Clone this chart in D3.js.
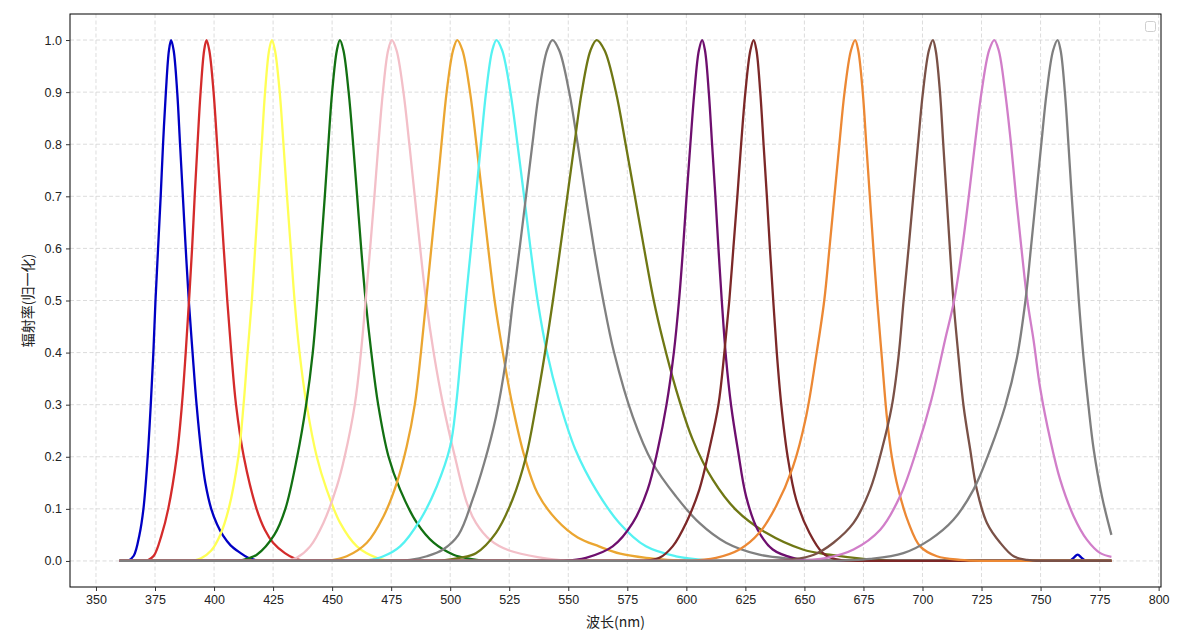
<!DOCTYPE html>
<html>
<head>
<meta charset="utf-8">
<script src="https://cdn.jsdelivr.net/npm/d3@7"></script>
<style>
  body { margin: 0; background: #fff; }
  svg { display: block; }
</style>
</head>
<body>
<script>
// spectra: [wavelength nm, normalised radiance]
const blueLed = [[360,0],[363.6,0],[366,0.01],[368.4,0.05],[370.1,0.1],[371.9,0.2],[373.2,0.3],[374.3,0.4],[375.2,0.5],[376.3,0.6],[377.4,0.7],[378.4,0.8],[379.6,0.9],[380.9,0.98],[381.8,1],[382.9,0.98],[384.4,0.9],[385.6,0.8],[386.8,0.7],[388,0.6],[389.3,0.5],[390.9,0.4],[392.6,0.3],[394.8,0.2],[396.3,0.15],[398.8,0.1],[401.3,0.07],[403.9,0.048],[407,0.03],[411,0.016],[414.5,0.006],[419,0],[762.5,0],[764,0.006],[765.7,0.012],[767.4,0.006],[769,0],[780,0]]
const redLed = [[360,0],[371.5,0],[374.5,0.01],[377.8,0.05],[380.6,0.1],[384.2,0.2],[386.4,0.3],[388,0.4],[389.4,0.5],[390.7,0.6],[391.8,0.7],[393,0.8],[394.3,0.9],[395.8,0.98],[396.8,1],[398,0.98],[399.8,0.9],[401.3,0.8],[402.7,0.7],[404.1,0.6],[405.6,0.5],[407.3,0.4],[409.3,0.3],[412.6,0.2],[418,0.1],[421.5,0.06],[425,0.035],[430,0.015],[434,0.005],[438,0],[780,0]]
const yellowLed = [[360,0],[391,0],[394.5,0.005],[398.8,0.02],[402.6,0.05],[406.2,0.1],[410.3,0.2],[412.5,0.3],[414.2,0.4],[416,0.5],[417.4,0.6],[418.8,0.7],[420.2,0.8],[421.6,0.9],[423.3,0.98],[424.5,1],[425.8,0.98],[427.8,0.9],[429.4,0.8],[430.9,0.7],[432.5,0.6],[434.1,0.5],[436.2,0.4],[439.2,0.3],[443.5,0.2],[447.7,0.137],[453.4,0.073],[460.5,0.028],[468.9,0.006],[475,0],[780,0]]
const greenLed = [[360,0],[410,0],[412.4,0.002],[418.1,0.012],[425.5,0.05],[430.2,0.1],[435.2,0.2],[439,0.3],[441.8,0.4],[443.7,0.5],[445.3,0.6],[446.9,0.7],[448.4,0.8],[450,0.9],[452,0.98],[453.3,1],[454.8,0.98],[457,0.9],[458.9,0.8],[460.6,0.7],[462.3,0.6],[464.2,0.5],[466.6,0.4],[469.5,0.3],[473.9,0.2],[478.8,0.137],[485.9,0.073],[493,0.035],[501.4,0.012],[508.5,0.004],[515,0],[780,0]]
const pinkLed = [[360,0],[431,0],[435,0.006],[440.7,0.028],[446.3,0.073],[452,0.143],[455.3,0.2],[459.6,0.3],[462.2,0.4],[464.2,0.5],[466.1,0.6],[467.9,0.7],[469.6,0.8],[471.5,0.9],[473.7,0.98],[475.3,1],[477.3,0.98],[480.2,0.9],[482.7,0.8],[485,0.7],[487.3,0.6],[489.8,0.5],[493,0.4],[497,0.3],[502,0.2],[507.1,0.111],[510.9,0.073],[517,0.04],[525,0.02],[539,0.006],[550,0],[780,0]]
const orangeLed = [[360,0],[448,0],[456.2,0.009],[464.7,0.035],[471.8,0.086],[477.4,0.15],[481.6,0.22],[485,0.3],[487.6,0.4],[489.8,0.5],[492,0.6],[494.2,0.7],[496.3,0.8],[498.5,0.9],[501.2,0.98],[503,1],[505.2,0.98],[508.4,0.9],[511.1,0.8],[513.6,0.7],[516.1,0.6],[518.8,0.5],[522.3,0.4],[526.3,0.3],[531.5,0.2],[537,0.13],[545,0.079],[554,0.045],[563,0.028],[572,0.014],[583,0.006],[600,0],[780,0]]
const cyanLed = [[360,0],[462,0],[464.7,0.001],[471.7,0.009],[478.8,0.028],[487.3,0.079],[494.3,0.143],[500,0.22],[502.5,0.3],[504.6,0.4],[506.6,0.5],[508.8,0.6],[510.9,0.7],[513,0.8],[515.2,0.9],[517.8,0.98],[519.6,1],[522,0.98],[525.5,0.9],[528.5,0.8],[531.3,0.7],[534,0.6],[537,0.5],[541,0.4],[546,0.31],[553,0.214],[561.7,0.137],[571.6,0.073],[582.9,0.028],[595.6,0.009],[609.7,0.001],[615,0],[780,0]]
const grayLed = [[360,0],[478,0],[483,0.002],[490.1,0.009],[497,0.022],[503.5,0.05],[509.5,0.118],[514.4,0.188],[519.4,0.277],[523.6,0.386],[526.6,0.5],[529.4,0.6],[532.1,0.7],[534.8,0.8],[537.6,0.9],[541,0.98],[543.3,1],[546.2,0.98],[550.4,0.9],[554,0.8],[557.4,0.7],[560.9,0.6],[564.8,0.5],[569.4,0.4],[577.3,0.277],[585.7,0.188],[595.6,0.124],[605.5,0.073],[616.8,0.035],[630.9,0.012],[645.1,0.004],[660,0],[780,0]]
const oliveLed = [[360,0],[495,0],[503.8,0.006],[510.9,0.015],[519.4,0.054],[526.4,0.118],[532.1,0.2],[536.3,0.297],[539.8,0.39],[543.5,0.5],[546.6,0.6],[549.6,0.7],[552.6,0.8],[555.7,0.9],[559.4,0.98],[562,1],[565.4,0.98],[570.2,0.9],[574.3,0.8],[578.2,0.7],[582.1,0.6],[586.2,0.5],[590,0.425],[595.6,0.33],[602.7,0.233],[611.2,0.156],[621,0.098],[633.8,0.054],[649.3,0.022],[660.6,0.012],[677,0.003],[690,0],[780,0]]
const purpleLed = [[360,0],[548,0],[557.5,0.006],[568.8,0.028],[577.3,0.073],[583.6,0.137],[587.9,0.214],[591.6,0.3],[594.7,0.4],[596.9,0.5],[598.6,0.6],[600.1,0.7],[601.7,0.8],[603.4,0.9],[605.3,0.98],[606.7,1],[607.9,0.98],[609.5,0.9],[610.9,0.8],[612.3,0.7],[613.6,0.6],[615,0.5],[616.8,0.39],[619,0.297],[621.8,0.214],[625.3,0.124],[630.2,0.06],[636.6,0.022],[645.1,0.006],[655,0],[780,0]]
const darkredLed = [[360,0],[582,0],[588.6,0.006],[594.2,0.028],[599.9,0.073],[605.5,0.137],[609.7,0.214],[613.6,0.3],[616.1,0.4],[618.2,0.5],[619.9,0.6],[621.6,0.7],[623.2,0.8],[625,0.9],[627.1,0.98],[628.5,1],[629.7,0.98],[631.3,0.9],[632.7,0.8],[634.1,0.7],[635.4,0.6],[636.8,0.5],[638.3,0.4],[640.2,0.3],[642.9,0.2],[646.5,0.118],[652.1,0.054],[657.8,0.015],[662,0.005],[668,0],[780,0]]
const orange2Led = [[360,0],[600,0],[612.6,0.006],[622.5,0.022],[630.9,0.054],[638,0.105],[645.1,0.18],[650.7,0.277],[655.2,0.4],[658.4,0.5],[660.6,0.6],[662.7,0.7],[664.8,0.8],[667,0.9],[669.7,0.98],[671.5,1],[672.8,0.98],[674.7,0.9],[676.2,0.8],[677.7,0.7],[679.2,0.6],[680.8,0.5],[682.8,0.39],[684.9,0.277],[687,0.2],[689.8,0.137],[694.1,0.073],[699,0.028],[706.1,0.009],[716,0.002],[725,0],[780,0]]
const brownLed = [[360,0],[635,0],[645,0.003],[654,0.012],[662.3,0.035],[670.8,0.073],[677.8,0.137],[682.8,0.214],[687,0.297],[689.8,0.39],[692,0.5],[694.1,0.6],[696.1,0.7],[698.1,0.8],[700.2,0.9],[702.7,0.98],[704.4,1],[705.6,0.98],[707.4,0.9],[708.8,0.8],[710.2,0.7],[711.6,0.6],[713.1,0.5],[715.3,0.39],[717.4,0.297],[720.2,0.214],[723,0.137],[727.3,0.073],[732.9,0.035],[738.6,0.009],[744.2,0.002],[750,0],[780,0]]
const orchidLed = [[360,0],[645,0],[659.5,0.006],[670.8,0.022],[682.1,0.06],[690.5,0.124],[697.6,0.214],[703.8,0.31],[709.6,0.425],[713.4,0.5],[716.8,0.6],[719.6,0.7],[722.2,0.8],[725,0.9],[728.2,0.98],[730.4,1],[732.3,0.98],[735,0.9],[737.5,0.8],[739.6,0.7],[741.9,0.6],[744.4,0.5],[747,0.425],[749.9,0.33],[754.1,0.233],[758.3,0.156],[764,0.086],[769.6,0.041],[775.3,0.015],[780,0.008]]
const gray2Led = [[360,0],[660,0],[677.8,0.004],[691.9,0.015],[703.2,0.041],[713.1,0.079],[721.6,0.137],[728.7,0.214],[735,0.297],[740,0.39],[743.6,0.5],[745.9,0.6],[748.1,0.7],[750.3,0.8],[752.6,0.9],[755.3,0.98],[757.2,1],[758.5,0.98],[760.3,0.9],[761.8,0.8],[763.2,0.7],[764.7,0.6],[766.2,0.5],[768.2,0.39],[770.3,0.297],[772.5,0.214],[776,0.124],[780,0.05]]

const spectra = [blueLed, redLed, yellowLed, greenLed, pinkLed, orangeLed, cyanLed, grayLed,
                 oliveLed, purpleLed, darkredLed, orange2Led, brownLed, orchidLed, gray2Led]
const colors = ["#0000c4", "#d42b2b", "#ffff55", "#127012", "#f3bfc8", "#eba631", "#55f2f2", "#808080",
                "#6f7714", "#6e0f6e", "#7c2828", "#ec8834", "#7a5147", "#d17ec9", "#7f7f7f"]

const xTicks = [350, 375, 400, 425, 450, 475, 500, 525, 550, 575, 600, 625, 650, 675, 700, 725, 750, 775, 800]
const yTicks = [0, 0.1, 0.2, 0.3, 0.4, 0.5, 0.6, 0.7, 0.8, 0.9, 1.0]

const xLabel = "波长(nm)"
const yLabel = "辐射率(归一化)"

const width = 1200
const height = 635
const margin = ({top: 14, right: 39, bottom: 48, left: 70})

let svg = d3.select("body").append("svg")
    .attr("width", width)
    .attr("height", height)

let x = d3.scaleLinear()
    .domain([339, 801])
    .range([margin.left, width - margin.right])

let y = d3.scaleLinear()
    .domain([-0.05, 1.05])
    .range([height - margin.bottom, margin.top])

const font = "'Liberation Sans', Arial, 'Noto Sans CJK SC', sans-serif"

// grid
svg.append("g")
    .attr("stroke", "#d3d3d3")
    .attr("stroke-width", 0.8)
    .attr("stroke-dasharray", "4,2.5")
  .selectAll("line")
  .data(xTicks)
  .join("line")
    .attr("x1", d => x(d)).attr("x2", d => x(d))
    .attr("y1", margin.top).attr("y2", height - margin.bottom)

svg.append("g")
    .attr("stroke", "#d3d3d3")
    .attr("stroke-width", 0.8)
    .attr("stroke-dasharray", "4,2.5")
  .selectAll("line")
  .data(yTicks)
  .join("line")
    .attr("x1", margin.left).attr("x2", width - margin.right)
    .attr("y1", d => y(d)).attr("y2", d => y(d))

// curves: smooth through the peaks, straight along the zero stretches
let smoothLine = d3.line()
    .x(d => x(d[0]))
    .y(d => y(d[1]))
    .curve(d3.curveCatmullRom.alpha(0.5))

let flatLine = d3.line()
    .x(d => x(d[0]))
    .y(d => y(d[1]))

function pieces(pts) {
    let out = []
    let cur = [pts[0]]
    for (let i = 1; i < pts.length; i++) {
        let a = pts[i - 1], b = pts[i]
        if (a[1] === 0 && b[1] === 0) {
            if (cur.length > 1) out.push(smoothLine(cur))
            out.push(flatLine([a, b]))
            cur = [b]
        } else {
            cur.push(b)
        }
    }
    if (cur.length > 1) out.push(smoothLine(cur))
    return out.join("")
}

svg.append("g")
    .attr("fill", "none")
    .attr("stroke-width", 2.3)
    .attr("stroke-linejoin", "round")
  .selectAll("path")
  .data(spectra)
  .join("path")
    .attr("stroke", (d, i) => colors[i])
    .attr("d", pieces)

// frame
svg.append("rect")
    .attr("x", margin.left)
    .attr("y", margin.top)
    .attr("width", width - margin.left - margin.right)
    .attr("height", height - margin.top - margin.bottom)
    .attr("fill", "none")
    .attr("stroke", "#000")
    .attr("stroke-width", 1)

// axes
let xAxis = g => g
    .attr("transform", `translate(0,${height - margin.bottom})`)
    .call(d3.axisBottom(x).tickValues(xTicks).tickFormat(d3.format("d")).tickSize(4).tickSizeOuter(0).tickPadding(4))
    .call(g => g.select(".domain").remove())

let yAxis = g => g
    .attr("transform", `translate(${margin.left},0)`)
    .call(d3.axisLeft(y).tickValues(yTicks).tickFormat(d3.format(".1f")).tickSize(4).tickSizeOuter(0).tickPadding(4))
    .call(g => g.select(".domain").remove())

svg.append("g").call(xAxis)
    .attr("font-family", font).attr("font-size", 12.5)
    .selectAll("text").attr("fill", "#222")
svg.append("g").call(yAxis)
    .attr("font-family", font).attr("font-size", 12.5)
    .selectAll("text").attr("fill", "#222")
svg.selectAll(".tick line").attr("stroke", "#333")

// labels
svg.append("text")
    .attr("x", (margin.left + width - margin.right) / 2)
    .attr("y", 627)
    .attr("text-anchor", "middle")
    .attr("font-family", "'Noto Sans CJK SC', sans-serif")
    .attr("font-size", 14)
    .attr("fill", "#222")
    .text(xLabel)

svg.append("text")
    .attr("transform", `translate(33,${(margin.top + height - margin.bottom) / 2}) rotate(-90)`)
    .attr("text-anchor", "middle")
    .attr("font-family", "'Noto Sans CJK SC', sans-serif")
    .attr("font-size", 14)
    .attr("fill", "#222")
    .text(yLabel)

// empty legend box
svg.append("rect")
    .attr("x", 1145.5)
    .attr("y", 21.5)
    .attr("width", 10)
    .attr("height", 10)
    .attr("rx", 2)
    .attr("fill", "#fff")
    .attr("stroke", "#cfcfcf")
    .attr("stroke-width", 1)
</script>
</body>
</html>
